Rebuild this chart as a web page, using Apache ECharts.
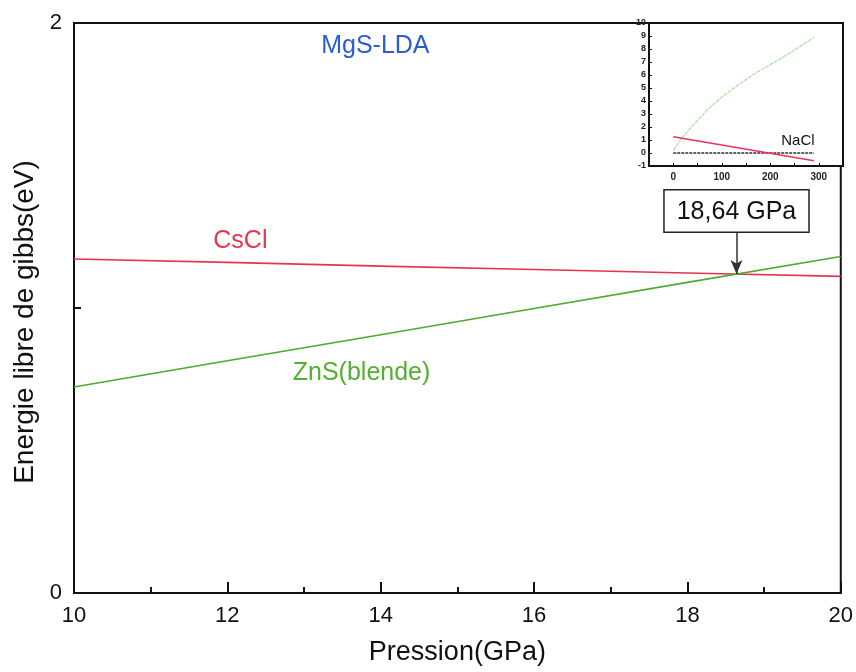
<!DOCTYPE html>
<html>
<head>
<meta charset="utf-8">
<script src="https://cdn.jsdelivr.net/npm/echarts@6/dist/echarts.min.js"></script>
<style>
  html, body { margin: 0; padding: 0; background: #fff; }
  #chart { width: 856px; height: 672px; }
</style>
</head>
<body>
<div id="chart"></div>
<script>
// Main panel: Gibbs free energy of MgS phases versus pressure (LDA)
const pressure = [10, 12, 14, 16, 18, 20];
const cscl = [1.172, 1.160, 1.147, 1.135, 1.123, 1.111];
const znsBlende = [0.723, 0.815, 0.906, 0.998, 1.090, 1.181];

// Transition pressure where the CsCl and ZnS curves cross
const transitionP = 18.64;
const transitionE = 1.119;
const calloutTopE = 1.268;
const transitionText = '18,64 GPa';

// Inset: wide pressure range, NaCl as reference
const insetPressure = [0, 15, 35, 70, 100, 140, 172, 207, 241, 290];
const insetGreen = [0.2, 1.0, 1.9, 3.3, 4.3, 5.4, 6.2, 6.95, 7.7, 8.9];
const insetRedP = [0, 290];
const insetRed = [1.25, -0.6];
const insetNaclP = [0, 290];
const insetNacl = [0, 0];

const xTicks = [10, 12, 14, 16, 18, 20];
const yTicks = [0, 1, 2];

// Text placed on the plots, in data coordinates
const mainNotes = [
  { text: 'MgS-LDA', at: [13.93, 1.919], color: '#2a5cd6' },
  { text: 'CsCl', at: [12.17, 1.235], color: '#e8334f' },
  { text: 'ZnS(blende)', at: [13.75, 0.772], color: '#52b02e' }
];
const insetNotes = [
  { text: 'NaCl', at: [257, 0.93], color: '#111' }
];

const FONT = 'Liberation Sans, Arial, sans-serif';
const zip = (xs, ys) => xs.map((x, i) => [x, ys[i]]);

const noteSeries = (notes, axisIdx, size, z) => ({
  type: 'scatter', xAxisIndex: axisIdx, yAxisIndex: axisIdx,
  symbolSize: 0, silent: true, z: z,
  itemStyle: { opacity: 1 },
  data: notes.map(n => ({
    value: n.at, name: n.text,
    label: { show: true, position: 'inside', formatter: n.text, color: n.color, opacity: 1, fontSize: size, fontFamily: FONT }
  }))
});

const chart = echarts.init(document.getElementById('chart'));

chart.setOption({
  backgroundColor: '#fff',
  animation: false,
  textStyle: { fontFamily: FONT },
  grid: [
    { left: 74, right: 13, top: 23, bottom: 79, show: true, borderColor: '#111', borderWidth: 2, backgroundColor: 'transparent' },
    { left: 649, top: 23, width: 194, height: 143, show: true, borderColor: '#111', borderWidth: 2, backgroundColor: '#fff', z: 5 }
  ],
  xAxis: [
    {
      gridIndex: 0, type: 'value', min: xTicks[0], max: xTicks[xTicks.length - 1], interval: 2,
      name: 'Pression(GPa)', nameLocation: 'middle', nameGap: 46,
      nameTextStyle: { fontSize: 27, color: '#111', fontFamily: FONT },
      axisLine: { onZero: false, lineStyle: { color: '#111', width: 2 } },
      axisTick: { inside: true, length: 11, lineStyle: { color: '#111', width: 2 } },
      minorTick: { show: true, splitNumber: 2, length: 6, lineStyle: { color: '#111', width: 2 } },
      axisLabel: { fontSize: 22, color: '#111', margin: 12, fontFamily: FONT },
      splitLine: { show: false }
    },
    {
      gridIndex: 1, type: 'value', min: -50, max: 350, interval: 50,
      axisLine: { onZero: false, lineStyle: { color: '#111', width: 2 } },
      axisTick: { inside: true, length: 3, lineStyle: { color: '#111', width: 1 } },
      axisLabel: {
        fontSize: 10, fontWeight: 'bold', color: '#222', margin: 6, fontFamily: FONT,
        formatter: v => (v >= 0 && v % 100 === 0 ? String(v) : '')
      },
      splitLine: { show: false }, z: 6
    }
  ],
  yAxis: [
    {
      gridIndex: 0, type: 'value', min: yTicks[0], max: yTicks[yTicks.length - 1], interval: 1,
      name: 'Energie libre de gibbs(eV)', nameLocation: 'middle', nameGap: 34,
      nameTextStyle: { fontSize: 28, color: '#111', fontFamily: FONT, padding: [0, 28, 0, 0] },
      axisLine: { show: true, onZero: false, lineStyle: { color: '#111', width: 2 } },
      axisTick: { inside: true, length: 7, lineStyle: { color: '#111', width: 2 } },
      axisLabel: {
        fontSize: 22, color: '#111', margin: 12, fontFamily: FONT,
        formatter: v => (v === 1 ? '' : String(v))
      },
      splitLine: { show: false }
    },
    {
      gridIndex: 1, type: 'value', min: -1, max: 10, interval: 1,
      axisLine: { show: true, onZero: false, lineStyle: { color: '#111', width: 2 } },
      axisTick: { inside: true, length: 3, lineStyle: { color: '#111', width: 1 } },
      axisLabel: { fontSize: 9, fontWeight: 'bold', color: '#222', margin: 3, fontFamily: FONT },
      splitLine: { show: false }, z: 6
    }
  ],
  series: [
    {
      name: 'CsCl', type: 'line', xAxisIndex: 0, yAxisIndex: 0,
      data: zip(pressure, cscl), symbol: 'none',
      lineStyle: { color: '#e8334f', width: 1.6 }, z: 3
    },
    {
      name: 'ZnS(blende)', type: 'line', xAxisIndex: 0, yAxisIndex: 0,
      data: zip(pressure, znsBlende), symbol: 'none',
      lineStyle: { color: '#4caa2c', width: 1.6 }, z: 3,
      markLine: {
        silent: true, symbol: ['none', 'arrow'], symbolSize: [9, 14],
        lineStyle: { color: '#333', width: 1.5, type: 'solid' },
        label: {
          show: true, position: 'start', distance: 0, formatter: transitionText,
          fontSize: 25, color: '#111', fontFamily: FONT,
          backgroundColor: '#fff', borderColor: '#222', borderWidth: 1.5, padding: [9, 12, 7, 12]
        },
        data: [[
          { coord: [transitionP, calloutTopE] },
          { coord: [transitionP, transitionE] }
        ]]
      }
    },
    noteSeries(mainNotes, 0, 25, 4),
    {
      name: 'inset-green', type: 'line', xAxisIndex: 1, yAxisIndex: 1,
      data: zip(insetPressure, insetGreen), symbol: 'none',
      lineStyle: { color: '#a6e0a0', width: 1.2, type: [4, 1] }, z: 7
    },
    {
      name: 'inset-nacl', type: 'line', xAxisIndex: 1, yAxisIndex: 1,
      data: zip(insetNaclP, insetNacl), symbol: 'none',
      lineStyle: { color: '#333', width: 1.3, type: [3, 1] }, z: 7
    },
    {
      name: 'inset-red', type: 'line', xAxisIndex: 1, yAxisIndex: 1,
      data: zip(insetRedP, insetRed), symbol: 'none',
      lineStyle: { color: '#e8335c', width: 1.4 }, z: 8
    },
    noteSeries(insetNotes, 1, 15, 9)
  ]
});
</script>
</body>
</html>
